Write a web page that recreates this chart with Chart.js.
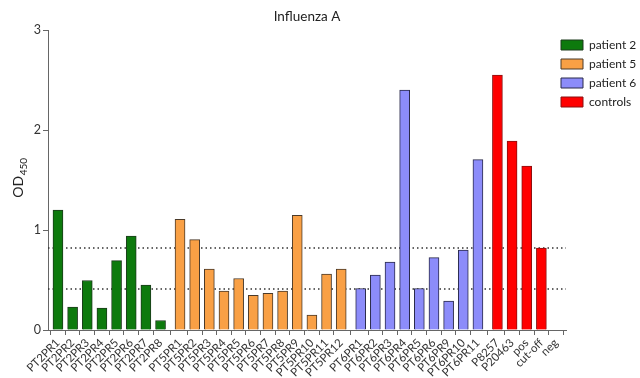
<!DOCTYPE html>
<html>
<head>
<meta charset="utf-8">
<script src="https://cdn.jsdelivr.net/npm/chart.js@4"></script>
<style>
  html, body { margin: 0; padding: 0; background: #fff; }
  #wrap { width: 640px; height: 378px; }
</style>
</head>
<body>
<div id="wrap"><canvas id="chart"></canvas></div>
<script>
// values
const patient2Labels = ['PT2PR1', 'PT2PR2', 'PT2PR3', 'PT2PR4', 'PT2PR5', 'PT2PR6', 'PT2PR7', 'PT2PR8'];
const patient2Values = [1.20, 0.23, 0.495, 0.22, 0.695, 0.94, 0.45, 0.095];

const patient5Labels = ['PT5PR1', 'PT5PR2', 'PT5PR3', 'PT5PR4', 'PT5PR5', 'PT5PR6', 'PT5PR7', 'PT5PR8', 'PT5PR9', 'PT5PR10', 'PT5PR11', 'PT5PR12'];
const patient5Values = [1.107, 0.904, 0.61, 0.39, 0.515, 0.346, 0.366, 0.389, 1.147, 0.15, 0.56, 0.61];

const patient6Labels = ['PT6PR1', 'PT6PR2', 'PT6PR3', 'PT6PR4', 'PT6PR5', 'PT6PR6', 'PT6PR9', 'PT6PR10', 'PT6PR11'];
const patient6Values = [0.415, 0.55, 0.68, 2.40, 0.415, 0.725, 0.29, 0.80, 1.705];

const controlLabels = ['P8257', 'P20463', 'pos', 'cut-off', 'neg'];
const controlValues = [2.55, 1.89, 1.64, 0.82, 0];

const cutoffLines = [0.82, 0.41];
const yTicks = [0, 1, 2, 3];

// layout
const groupGap = 0.33;
const xMin = -0.68, xMax = 34.67;
const FONT = 'Lato, "Open Sans", sans-serif';

const groups = [
    { name: 'patient 2', labels: patient2Labels, values: patient2Values, fill: '#0d7a0d', border: '#1d3b1d' },
    { name: 'patient 5', labels: patient5Labels, values: patient5Values, fill: '#f9a045', border: '#4a3a2a' },
    { name: 'patient 6', labels: patient6Labels, values: patient6Values, fill: '#8c8cfa', border: '#2a2a4a' },
    { name: 'controls', labels: controlLabels, values: controlValues, fill: '#ff0000', border: '#8a1010' }
];

const tickPositions = [];
const tickLabels = [];
let idx = 0;
const datasets = groups.map((g, gi) => {
    const data = g.values.map((v, i) => {
        const x = idx + gi * groupGap;
        idx++;
        tickPositions.push(x);
        tickLabels.push(g.labels[i]);
        return { x: x, y: v };
    });
    return {
        type: 'bar',
        label: g.name,
        data: data,
        backgroundColor: g.fill,
        borderColor: g.border,
        borderWidth: 1,
        borderSkipped: 'start',
        barThickness: 10,
        grouped: false,
        order: 1
    };
});

cutoffLines.forEach(c => {
    datasets.push({
        type: 'line',
        label: 'cutoff',
        data: [{ x: xMin, y: c }, { x: xMax, y: c }],
        borderColor: '#333',
        borderWidth: 1.5,
        borderDash: [1.5, 3],
        pointRadius: 0,
        fill: false,
        order: 5
    });
});

const yTitlePlugin = {
    id: 'yTitle',
    afterDraw(chart) {
        const ctx = chart.ctx;
        const a = chart.chartArea;
        ctx.save();
        ctx.translate(18, (a.top + a.bottom) / 2 - 2);
        ctx.rotate(-Math.PI / 2);
        ctx.fillStyle = '#222';
        ctx.font = '14px ' + FONT;
        const w1 = ctx.measureText('OD').width;
        ctx.font = '10px ' + FONT;
        const w2 = ctx.measureText('450').width;
        const start = -(w1 + w2) / 2;
        ctx.font = '14px ' + FONT;
        ctx.fillText('OD', start, 5);
        ctx.font = '10px ' + FONT;
        ctx.fillText('450', start + w1 + 0.5, 9);
        ctx.restore();
    }
};

// keep the legend narrow so the plot reaches the right side, then slide it into place
const legendPlace = {
    id: 'legendPlace',
    beforeLayout(chart) {
        const lg = chart.legend;
        if (lg && !lg._wrapped) {
            const fit = lg.fit.bind(lg);
            lg.fit = function() { fit(); this.width = 74; };
            lg._wrapped = true;
        }
    },
    afterLayout(chart) {
        const lg = chart.legend;
        lg.left -= 12;
        lg.top += 32;
    }
};

new Chart(document.getElementById('chart'), {
    type: 'bar',
    data: { datasets: datasets },
    options: {
        responsive: true,
        maintainAspectRatio: false,
        animation: false,
        layout: { padding: { left: 0, right: 0, top: 0, bottom: 0 } },
        plugins: {
            title: {
                display: true,
                text: 'Influenza A',
                fullSize: false,
                color: '#222',
                font: { family: FONT, size: 13.5, weight: 'normal' },
                padding: { top: 9, bottom: 5 }
            },
            legend: {
                position: 'right',
                align: 'start',
                labels: {
                    filter: item => item.datasetIndex < 4,
                    boxWidth: 22,
                    boxHeight: 10,
                    padding: 7,
                    color: '#222',
                    font: { family: FONT, size: 12 }
                }
            },
            tooltip: { enabled: false }
        },
        scales: {
            x: {
                type: 'linear',
                min: xMin,
                max: xMax,
                offset: false,
                afterBuildTicks: scale => {
                    scale.ticks = tickPositions.map(v => ({ value: v }));
                },
                afterFit: scale => { scale.height = 48; },
                border: { color: '#666', width: 1 },
                grid: { drawOnChartArea: false, drawTicks: true, tickLength: 5, color: '#666' },
                ticks: {
                    autoSkip: false,
                    minRotation: 45,
                    maxRotation: 45,
                    padding: 1,
                    color: '#333',
                    font: { family: FONT, size: 11.5 },
                    callback: (value, index) => tickLabels[index]
                }
            },
            y: {
                min: 0,
                max: 3,
                afterBuildTicks: scale => {
                    scale.ticks = yTicks.map(v => ({ value: v }));
                },
                afterFit: scale => { scale.width = 48; },
                border: { color: '#666', width: 1 },
                grid: { drawOnChartArea: false, drawTicks: true, tickLength: 5, color: '#666' },
                ticks: {
                    padding: 2,
                    color: '#333',
                    font: { family: FONT, size: 12.5 }
                }
            }
        }
    },
    plugins: [yTitlePlugin, legendPlace]
});
</script>
</body>
</html>
